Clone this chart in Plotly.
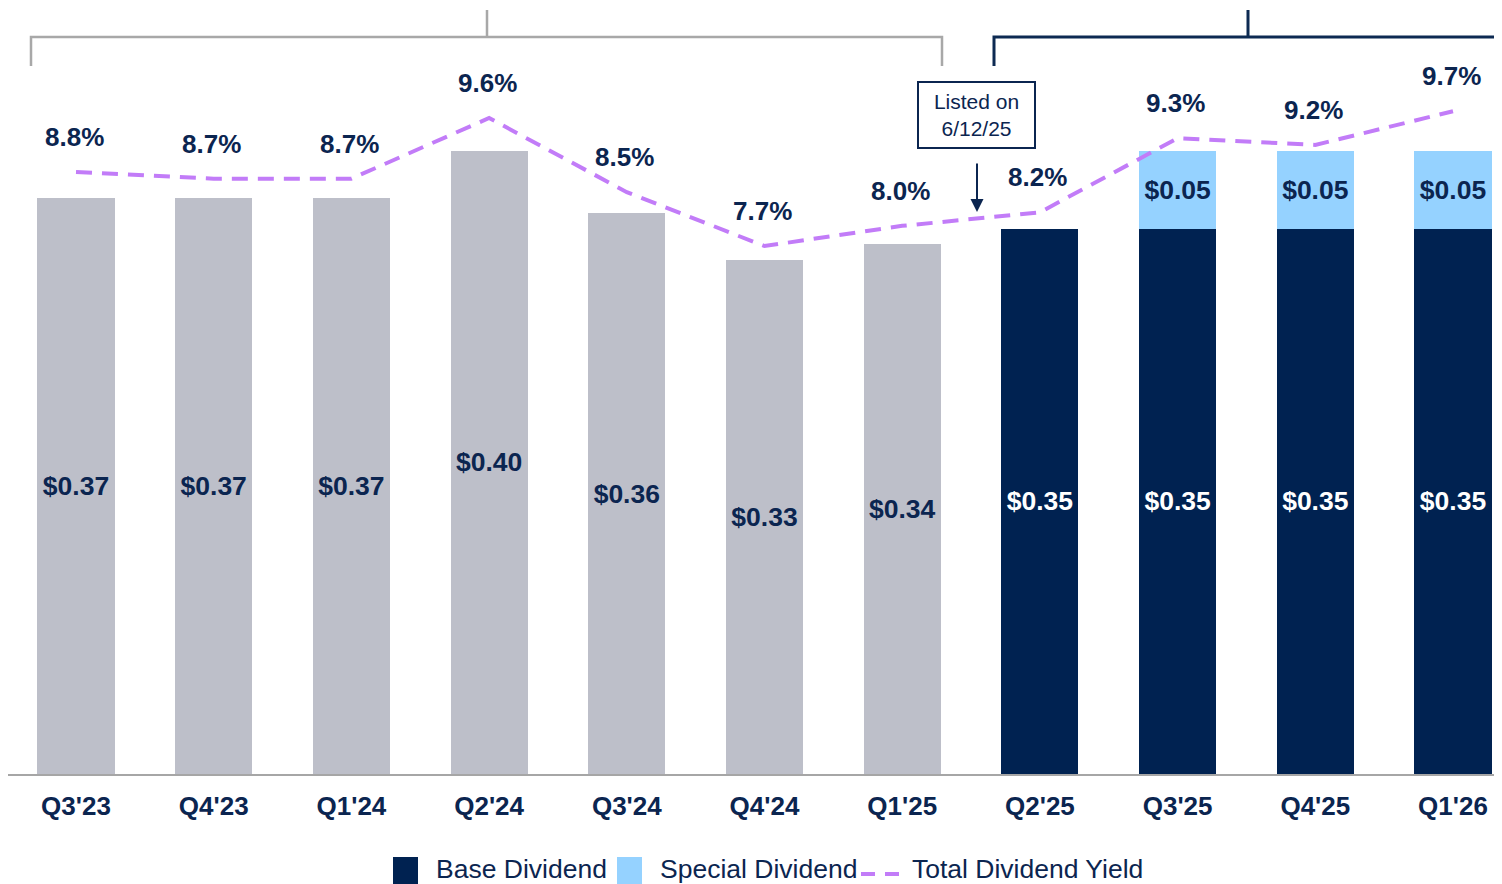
import plotly.graph_objects as go

quarters = ["Q3'23", "Q4'23", "Q1'24", "Q2'24", "Q3'24", "Q4'24", "Q1'25",
            "Q2'25", "Q3'25", "Q4'25", "Q1'26"]
base_div = [0.37, 0.37, 0.37, 0.40, 0.36, 0.33, 0.34, 0.35, 0.35, 0.35, 0.35]
special_div = [None, None, None, None, None, None, None, None, 0.05, 0.05, 0.05]
yield_pct = [8.8, 8.7, 8.7, 9.6, 8.5, 7.7, 8.0, 8.2, 9.3, 9.2, 9.7]
listed_flag = [False] * 7 + [True] * 4

NAVY = "#002251"
TXT = "#0b2550"
GRAY_BAR = "#bdbfc9"
LIGHT = "#95d2ff"
PURPLE = "#c27cf8"
FONT = "Arial, Liberation Sans, sans-serif"

OFF = 8  # page body margin
W, H = 1502 - OFF, 884 - OFF
L, R, T, B = 0, 0, 0, 110
PW = W - L - R
PH = H - T - B
BASE_PAGE_Y = 774

def px(xp):
    return (xp - OFF - L) / PW

def py(yp):
    return (BASE_PAGE_Y - yp) / PH

x = list(range(len(quarters)))
fig = go.Figure()

fig.add_trace(go.Bar(
    x=x, y=base_div, name="Base Dividend",
    marker=dict(color=[NAVY if f else GRAY_BAR for f in listed_flag], line=dict(width=0)),
    text=[f"${v:.2f}" for v in base_div], textposition="inside", insidetextanchor="middle",
    textangle=0, constraintext="none",
    textfont=dict(family=FONT, size=26.5, color=["white" if f else TXT for f in listed_flag], weight="bold"),
    width=0.56, showlegend=False,
))
fig.add_trace(go.Bar(
    x=x, y=special_div, name="Special Dividend",
    marker=dict(color=LIGHT, line=dict(width=0)),
    text=[f"${v:.2f}" if v else "" for v in special_div], textposition="inside",
    insidetextanchor="middle", textangle=0, constraintext="none",
    textfont=dict(family=FONT, size=26.5, color=TXT, weight="bold"),
    width=0.56, showlegend=False,
))
fig.add_trace(go.Scatter(
    x=x, y=yield_pct, yaxis="y2", mode="lines", name="Total Dividend Yield",
    line=dict(color=PURPLE, width=4, dash="16px,10px"), showlegend=False,
))

annotations = []
for i, v in enumerate(yield_pct):
    annotations.append(dict(x=i, y=v, xref="x", yref="y2", text=f"<b>{v:.1f}%</b>",
                            showarrow=False, yshift=35, xshift=-2, yanchor="middle",
                            font=dict(family=FONT, size=26, color=TXT)))

xscale = 137.7
def dx(xp):
    return (xp - 76) / xscale

# Listed on box and arrow
annotations.append(dict(x=dx(976.5), y=py(115), xref="x", yref="paper",
                        xanchor="center", yanchor="middle",
                        text="Listed on<br>6/12/25", showarrow=False,
                        font=dict(family=FONT, size=21, color=TXT),
                        bordercolor=TXT, borderwidth=2, borderpad=3,
                        width=109, height=58, bgcolor="white", align="center"))
annotations.append(dict(x=dx(977), y=py(212), xref="x", yref="paper", text="",
                        showarrow=True, ax=0, ay=-50, arrowhead=2, arrowsize=1.3,
                        arrowwidth=2, arrowcolor=TXT))

# Legend (manual)
shapes = []
leg_y = 869
shapes.append(dict(type="rect", xref="paper", yref="paper", x0=px(393), x1=px(418),
                   y0=py(886), y1=py(857), fillcolor=NAVY, line=dict(width=0)))
shapes.append(dict(type="rect", xref="paper", yref="paper", x0=px(617), x1=px(642),
                   y0=py(886), y1=py(857), fillcolor=LIGHT, line=dict(width=0)))
shapes.append(dict(type="line", xref="paper", yref="paper", x0=px(861), x1=px(905),
                   y0=py(874), y1=py(874), line=dict(color=PURPLE, width=4, dash="14px,10px")))
for txt, xs in [("Base Dividend", 434), ("Special Dividend", 658), ("Total Dividend Yield", 910)]:
    annotations.append(dict(x=px(xs), y=py(leg_y), xref="paper", yref="paper", text=txt,
                            xanchor="left", yanchor="middle", showarrow=False,
                            font=dict(family=FONT, size=26.5, color=TXT)))

# Brackets
def bracket(x0p, x1p, xcp, color, width):
    a, b, c = dx(x0p), dx(x1p), dx(xcp)
    ylow, ymid, ytop = py(66), py(37), py(10)
    path = (f"M {a},{ylow} L {a},{ymid} L {c},{ymid} L {c},{ytop} "
            f"M {c},{ymid} L {b},{ymid} L {b},{ylow}")
    return dict(type="path", xref="x", yref="paper", path=path,
                line=dict(color=color, width=width))

shapes.append(bracket(31, 942, 487, "#a8a8a8", 2.5))
shapes.append(bracket(994, 1498, 1248, "#0d2a52", 3))

x_lo = (OFF - 76) / xscale
x_hi = (1502 - 76) / xscale

fig.update_layout(
    width=W, height=H,
    margin=dict(l=L, r=R, t=T, b=B),
    paper_bgcolor="white", plot_bgcolor="white",
    barmode="stack", bargap=0.44,
    xaxis=dict(range=[x_lo, x_hi], tickmode="array", tickvals=x, ticktext=quarters,
               showgrid=False, zeroline=False, showline=True, linecolor="#a6a6a6",
               linewidth=2, ticks="", ticklabelstandoff=8,
               tickfont=dict(family=FONT, size=26, color=TXT, weight="bold")),
    yaxis=dict(range=[0, (BASE_PAGE_Y - OFF) / 1558], visible=False, showgrid=False, zeroline=False),
    yaxis2=dict(range=[9.6 - (BASE_PAGE_Y - 118) / 67.4, 9.6 + (118 - OFF) / 67.4], overlaying="y",
                visible=False, showgrid=False, zeroline=False),
    annotations=annotations, shapes=shapes, showlegend=False,
    uniformtext=dict(minsize=26, mode="show"),
)

fig.write_html("out.html")
